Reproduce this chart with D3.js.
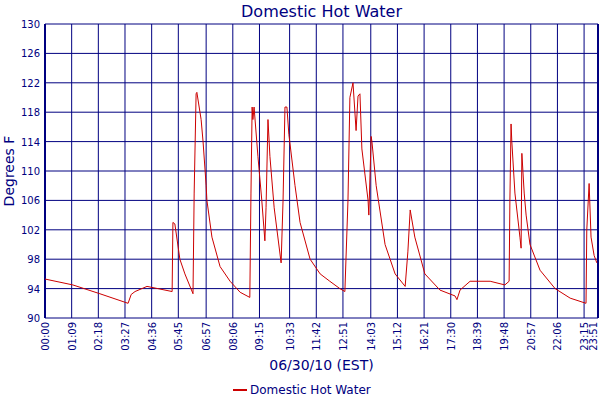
<!DOCTYPE html><html><head><script src="https://cdn.jsdelivr.net/npm/d3@7"></script>
<style>body{margin:0;background:#fff}text{font-family:"DejaVu Sans",Verdana,sans-serif}</style></head><body><svg width="600" height="400"></svg>
<script>
const xTickLabels=["00:00","01:09","02:18","03:27","04:36","05:45","06:57","08:06","09:15","10:33","11:42","12:51","14:03","15:12","16:21","17:30","18:39","19:48","20:57","22:06","23:15","23:51"];
const yTicks=[90,94,98,102,106,110,114,118,122,126,130];
const minutes=[0,72,142,215,223,233,264,329,331,336,349,362,383,386,391,393,404,409,417,419,432,453,479,505,530,533,536,538,541,551,561,569,572,577,582,593,611,616,621,626,631,647,660,686,712,737,763,776,784,789,797,805,810,815,820,836,838,844,846,857,880,906,932,939,945,957,983,1022,1061,1066,1074,1100,1152,1190,1201,1203,1206,1208,1216,1229,1232,1234,1240,1245,1255,1281,1320,1359,1400,1402,1408,1413,1421,1428];
const temps=[95.3,94.5,93.3,92,93.2,93.6,94.3,93.6,103,102.8,98,96,93.3,107,120.5,120.7,117,114,108,106,101,97,95,93.5,92.8,107,118.7,117,118.7,112,106,100.5,105,117,112,105,97.5,106,118.7,118.7,115,108,103,98,96,95,94,93.6,106,120,122,115.5,120.2,120.5,113,106,104,114.7,114,108,100,96,94.3,99,104.7,101,96,93.8,93,92.5,93.8,95,95,94.5,95,106,116.4,114,107,101,99.5,112.4,107,104,100,96.5,94,92.7,92,102,108.3,101,98.5,97.5];
const toMin=s=>{const[a,b]=s.split(":");return +a*60+ +b;};
const svg=d3.select("svg"),L=45,R=598,T=24,B=318;
const x=d3.scaleLinear().domain([0,1431]).range([L,R]);
const y=d3.scaleLinear().domain([90,130]).range([B,T]);
const navy="#000080";
svg.append("g").selectAll("line").data(xTickLabels).join("line").attr("x1",d=>x(toMin(d))).attr("x2",d=>x(toMin(d))).attr("y1",T).attr("y2",B).attr("stroke",navy).attr("stroke-width",1);
svg.append("g").selectAll("line").data(yTicks).join("line").attr("x1",L).attr("x2",R).attr("y1",d=>y(d)).attr("y2",d=>y(d)).attr("stroke",navy).attr("stroke-width",1);
svg.append("line").attr("x1",L).attr("x2",L).attr("y1",T).attr("y2",B).attr("stroke",navy).attr("stroke-width",2);
svg.append("line").attr("x1",R).attr("x2",R).attr("y1",T).attr("y2",B).attr("stroke",navy).attr("stroke-width",2);
svg.append("g").selectAll("text").data(yTicks).join("text").attr("x",L-5).attr("y",d=>y(d)+4).attr("text-anchor","end").attr("font-size",10).attr("fill",navy).text(d=>d);
svg.append("g").selectAll("text").data(xTickLabels).join("text").attr("transform",d=>`translate(${Math.min(x(toMin(d))+4,597)},${B+4}) rotate(-90)`).attr("text-anchor","end").attr("font-size",10).attr("fill",navy).text(d=>d);
const line=d3.line().x((d,i)=>x(minutes[i])).y(d=>y(d));
svg.append("path").attr("d",line(temps)).attr("fill","none").attr("stroke","#cc0000").attr("stroke-width",1);
svg.append("text").attr("x",(L+R)/2).attr("y",17).attr("text-anchor","middle").attr("font-size",16).attr("fill",navy).text("Domestic Hot Water");
svg.append("text").attr("transform",`translate(14,${(T+B)/2}) rotate(-90)`).attr("text-anchor","middle").attr("font-size",14).attr("fill",navy).text("Degrees F");
svg.append("text").attr("x",(L+R)/2).attr("y",370).attr("text-anchor","middle").attr("font-size",14).attr("fill",navy).text("06/30/10 (EST)");
svg.append("line").attr("x1",233).attr("x2",247).attr("y1",390).attr("y2",390).attr("stroke","#cc0000").attr("stroke-width",2);
svg.append("text").attr("x",250).attr("y",394).attr("font-size",12).attr("fill",navy).text("Domestic Hot Water");
</script></body></html>
